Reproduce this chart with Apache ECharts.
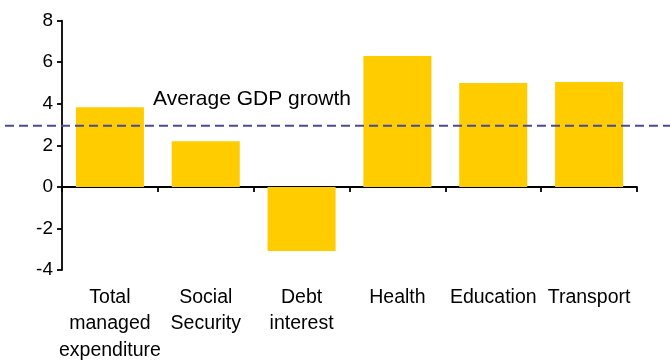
<!DOCTYPE html>
<html>
<head>
<meta charset="utf-8">
<script src="https://cdn.jsdelivr.net/npm/echarts@6/dist/echarts.min.js"></script>
<style>html,body{margin:0;padding:0;background:#fff}#c{width:670px;height:360px}</style>
</head>
<body>
<div id="c"></div>
<script>
var categories = ["Total\nmanaged\nexpenditure", "Social\nSecurity", "Debt\ninterest", "Health", "Education", "Transport"];
var values = [3.83, 2.2, -3.08, 6.3, 5.0, 5.05];
var avgGrowth = 2.94;
var avgLabel = "Average GDP growth";
var yTicks = { min: -4, max: 8, interval: 2 };

var font = "'Liberation Sans', Arial, sans-serif";
var chart = echarts.init(document.getElementById('c'), null, { renderer: 'canvas' });
chart.setOption({
  animation: false,
  grid: [
    { left: 62, right: 33, top: 20.7, bottom: 90, containLabel: false, outerBoundsMode: 'none' },
    { left: 5, right: 0, top: 20.7, bottom: 90, containLabel: false, outerBoundsMode: 'none' }
  ],
  xAxis: [
    {
      type: 'category', data: categories, gridIndex: 0,
      axisLine: { onZero: true, lineStyle: { color: '#000', width: 1.8 } },
      axisTick: { show: true, length: 5, inside: false, lineStyle: { color: '#000', width: 1.8 } },
      axisLabel: { show: false }
    },
    {
      type: 'category', data: categories, gridIndex: 0, position: 'bottom',
      axisLine: { show: false, onZero: false },
      axisTick: { show: false },
      axisLabel: { interval: 0, color: '#000', fontFamily: font, fontSize: 19.5, lineHeight: 26.5, margin: 14 }
    },
    { type: 'value', gridIndex: 1, min: 0, max: 1, show: false }
  ],
  yAxis: [
    {
      type: 'value', gridIndex: 0, min: yTicks.min, max: yTicks.max, interval: yTicks.interval,
      axisLine: { show: true, lineStyle: { color: '#000', width: 1.8 } },
      axisTick: { show: true, length: 5, lineStyle: { color: '#000', width: 1.8 } },
      axisLabel: { color: '#000', fontFamily: font, fontSize: 19, margin: 9 },
      splitLine: { show: false }
    },
    { type: 'value', gridIndex: 1, min: yTicks.min, max: yTicks.max, show: false }
  ],
  series: [
    {
      type: 'bar', xAxisIndex: 0, yAxisIndex: 0, data: values,
      barWidth: '71%', itemStyle: { color: '#FFCC00' }
    },
    {
      type: 'line', xAxisIndex: 2, yAxisIndex: 1,
      data: [[0, avgGrowth], [1, avgGrowth]],
      symbol: 'none',
      lineStyle: { color: '#4a4a9c', width: 2, type: [9, 5] },
      z: 5
    }
  ],
  graphic: [
    { type: 'text', left: 153, top: 89, style: { text: avgLabel, fill: '#000', font: '21px ' + font } }
  ]
});
</script>
</body>
</html>
